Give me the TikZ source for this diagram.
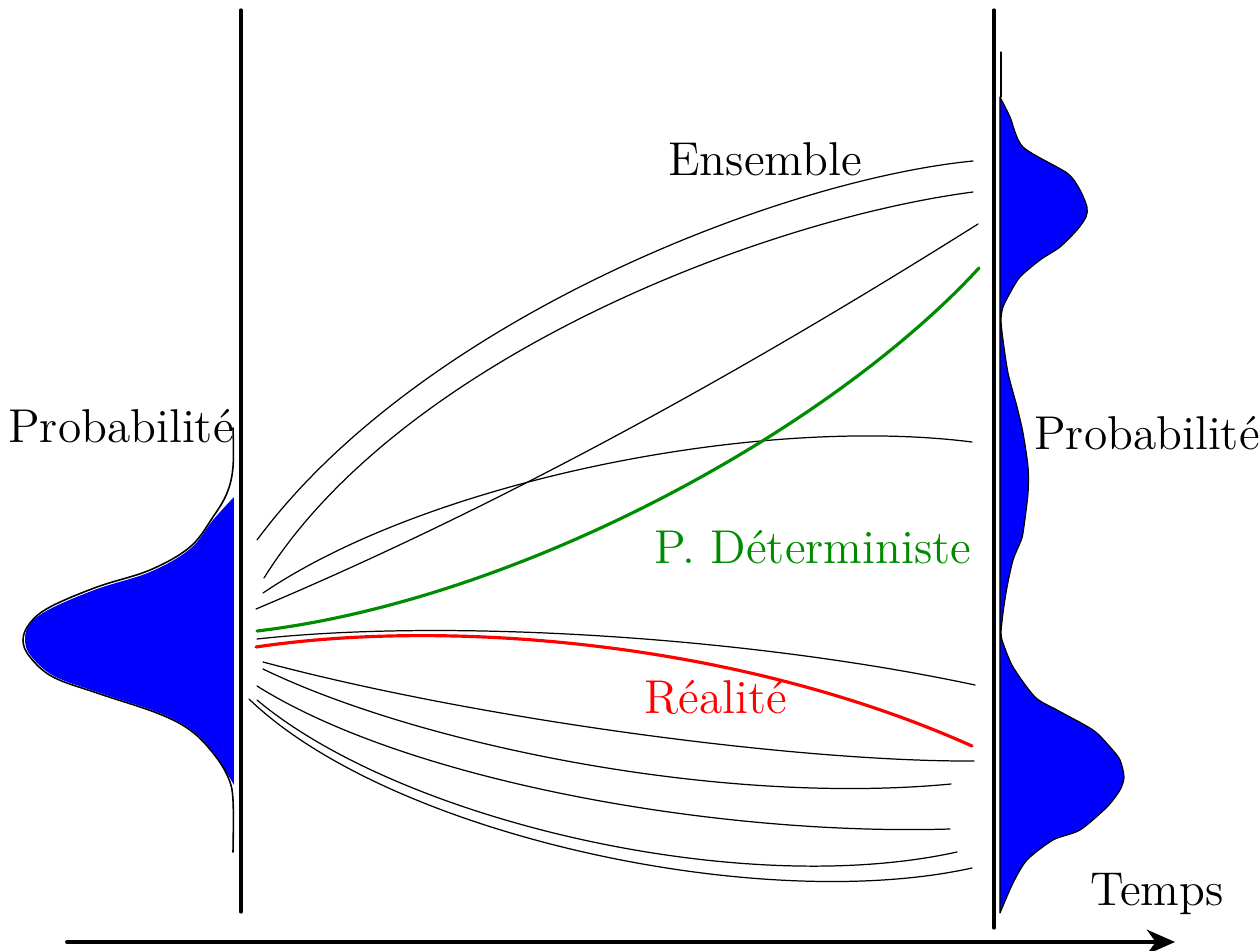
\documentclass[tikz,border=0pt]{standalone}
\usepackage{fontspec}
\usetikzlibrary{arrows.meta}
\definecolor{PrevGreen}{RGB}{0,140,0}
\definecolor{DensBlue}{RGB}{0,0,255}

\begin{document}
\begin{tikzpicture}[x=0.01cm,y=-0.01cm,line cap=round,line join=round,
  traj/.style={line width=0.35pt},
  prev/.style={draw=PrevGreen,line width=0.9pt},
  reel/.style={draw=red,line width=0.9pt},
  axe/.style={line width=0.95pt},
  densite/.style={fill=DensBlue,draw=black,line width=0.35pt},
  etiq/.style={font=\fontsize{13.5}{16}\selectfont,inner sep=0pt,anchor=base}]
  \useasboundingbox (0,0) rectangle (1259,951);

  % axes verticaux
  \coordinate (G0) at (241,10);
  \coordinate (G1) at (241,912);
  \coordinate (D0) at (994,10);
  \coordinate (D1) at (994,928);
  \draw[axe] (G0) -- (G1);
  \draw[axe] (D0) -- (D1);

  % densite initiale
  \fill[DensBlue] plot[smooth,tension=0.6] coordinates {(234,497) (213,520) (190,549)
    (150,572) (97,589) (50,609) (30,624) (25,640) (31,656) (54,676) (97,692)
    (157,712) (190,729) (213,752) (234,785)} -- cycle;
  \draw[line width=0.45pt] plot[smooth,tension=0.6] coordinates {(233,428) (233,467)
    (227,493) (213,517) (190,547) (150,570) (97,587) (50,607) (30,623) (23,640)
    (30,657) (53,677) (97,693) (157,713) (190,730) (213,753) (228,777) (233,800)
    (233,852)};

  % densite finale
  \draw[line width=0.35pt] (1001,52) -- (1001,97);
  \filldraw[densite] plot[smooth,tension=0.45] coordinates {(1000,97) (1010,117)
    (1023,147) (1067,173) (1080,190) (1087,207) (1086,217) (1077,230) (1060,247)
    (1040,260) (1020,277) (1010,293) (1003,307) (1001,320) (1003,340) (1008,373)
    (1017,407) (1023,433) (1028,467) (1028,493) (1023,533) (1020,543) (1013,560)
    (1007,587) (1003,613) (1001,633) (1003,643) (1013,667) (1035,697) (1057,710)
    (1093,730) (1110,747) (1120,760) (1124,777) (1120,790) (1107,807) (1080,830)
    (1053,840) (1027,860) (1013,883) (1000,913)} -- cycle;

  % trajectoires de l'ensemble
  \draw[traj] (257,540) .. controls (420,320) and (780,180) .. (973,161);
  \draw[traj] (264,578) .. controls (400,360) and (760,220) .. (973,192);
  \draw[traj] (263,593) .. controls (430,480) and (760,415) .. (972,442);
  \draw[traj] (256,609) .. controls (496,508) and (738,375) .. (978,224);
  \draw[traj] (257,639) .. controls (450,618) and (750,637) .. (975,685);
  \draw[traj] (263,662) .. controls (480,720) and (800,762) .. (974,761);
  \draw[traj] (263,669) .. controls (420,745) and (720,806) .. (951,784);
  \draw[traj] (257,686) .. controls (410,782) and (720,836) .. (950,829);
  \draw[traj] (257,700) .. controls (400,820) and (740,900) .. (957,852);
  \draw[traj] (249,699) .. controls (390,835) and (760,915) .. (972,868);

  % prevision deterministe et realite
  \draw[prev] (257,631) .. controls (520,600) and (830,430) .. (979,268);
  \draw[reel] (256,647) .. controls (450,618) and (740,642) .. (972,746);

  % textes
  \node[etiq] (ensemble) at (765,175) {Ensemble};
  \node[etiq] (probaG) at (121,442) {Probabilité};
  \node[etiq] (probaD) at (1147,449) {Probabilité};
  \node[etiq,text=PrevGreen] (determ) at (813,563) {P. Déterministe};
  \node[etiq,text=red] (realite) at (716,713) {Réalité};
  \node[etiq] (temps) at (1157,905) {Temps};

  % axe du temps
  \coordinate (T0) at (67,942);
  \coordinate (T1) at (1175,942);
  \draw[line width=1.1pt,-{Stealth[length=8pt,width=7pt,inset=2.5pt]}] (T0) -- (T1);
\end{tikzpicture}
\end{document}
